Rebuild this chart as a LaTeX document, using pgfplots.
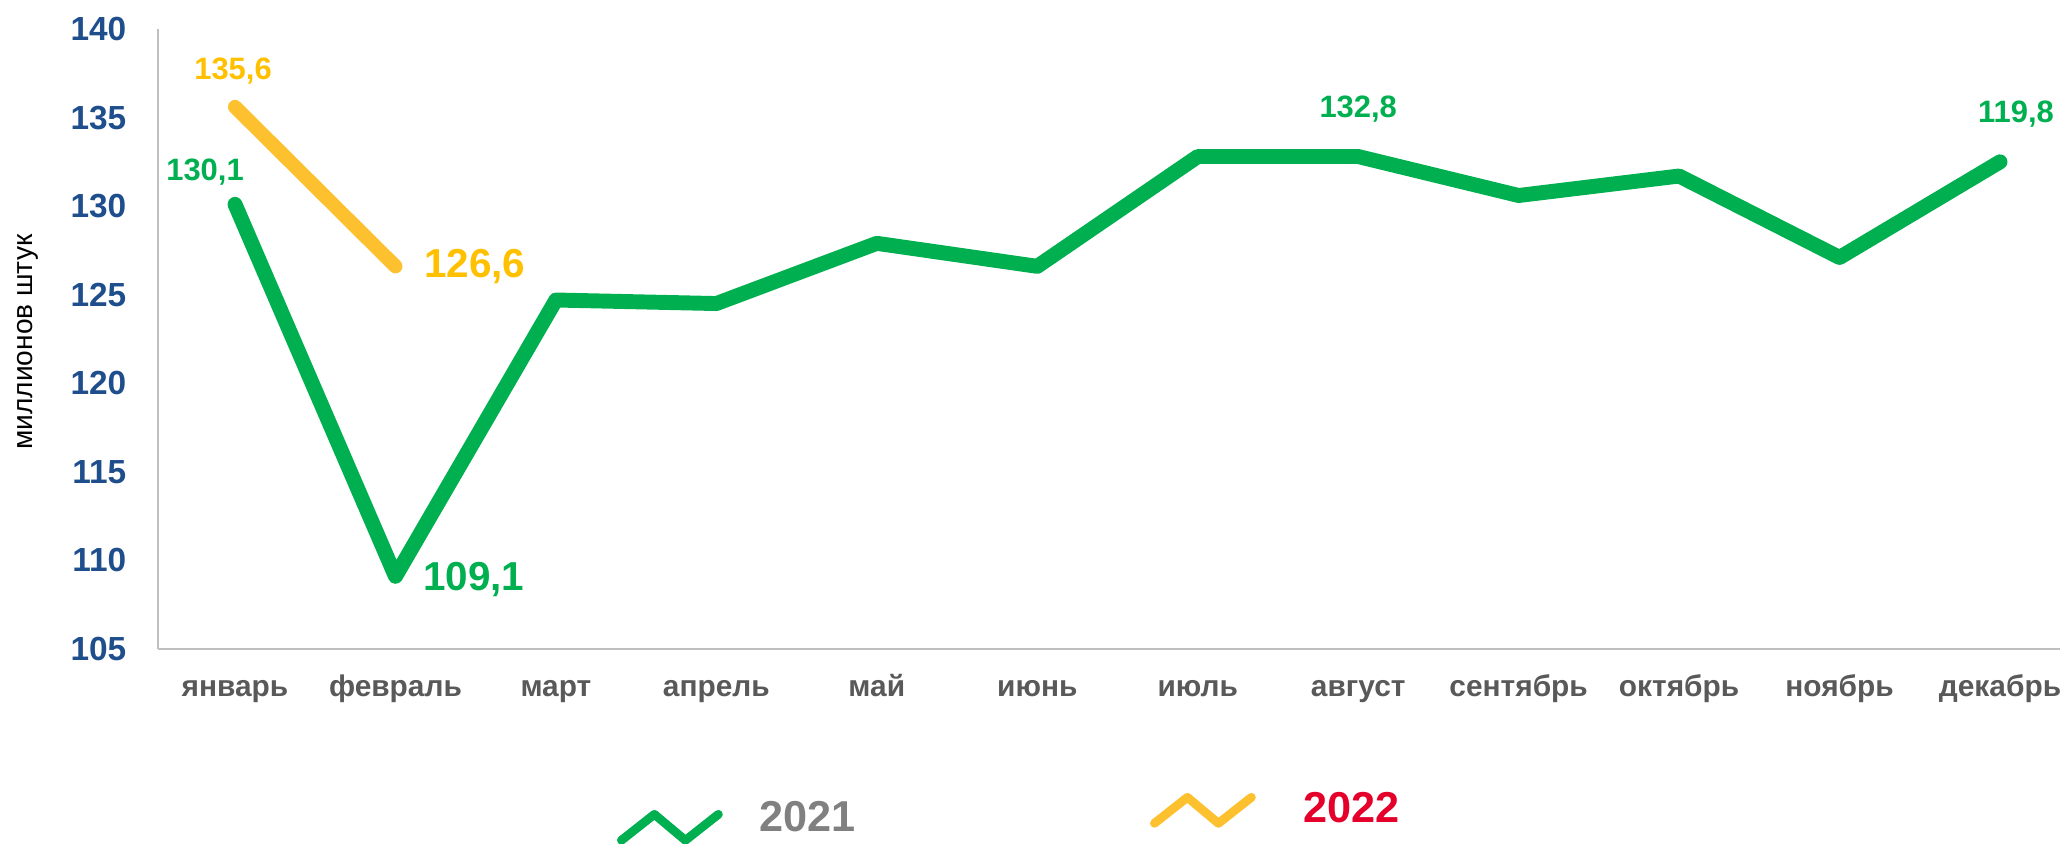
\documentclass[border=0pt]{standalone}
\usepackage{fontspec}
\setmainfont{Liberation Sans}
\usepackage{pgfplots}
\pgfplotsset{compat=1.18}
\definecolor{gr}{HTML}{00B050}
\definecolor{orl}{HTML}{FDC02F}
\definecolor{ort}{HTML}{FFC000}
\definecolor{ytk}{HTML}{1F4E8C}
\definecolor{xtk}{HTML}{595959}
\definecolor{lg}{HTML}{808080}
\definecolor{rd}{HTML}{E4002B}
\definecolor{axc}{HTML}{BFBFBF}
\begin{document}
\begin{tikzpicture}
\begin{axis}[
  at={(1.58cm,1.95cm)}, anchor=south west,
  width=19.02cm, height=6.2cm, scale only axis,
  xmin=-0.48, xmax=11.374, ymin=105, ymax=140,
  axis x line*=bottom, axis y line*=left,
  axis line style={draw=axc, line width=0.6pt},
  xtick={0,...,11},
  xticklabels={январь,февраль,март,апрель,май,июнь,июль,август,сентябрь,октябрь,ноябрь,декабрь},
  ytick={105,110,...,140},
  major tick length=0pt, tick style={draw=none},
  /pgf/number format/assume math mode=true,
  xticklabel style={font=\fontsize{8.5}{10}\selectfont\bfseries, text=xtk, anchor=base, yshift=-0.48cm},
  yticklabel style={font=\fontsize{9.5}{11}\selectfont\bfseries, text=ytk, anchor=east, inner sep=0pt, xshift=-0.31cm},
  ylabel={миллионов штук},
  ylabel style={at={(axis description cs:-0.0683,0.495)}, anchor=center, font=\fontsize{8}{9}\selectfont},
  clip=false,
  legend columns=2,
  legend style={at={(axis description cs:0.449,-0.268)}, anchor=center, draw=none, fill=none,
    font=\fontsize{12.3}{14}\selectfont\bfseries,
    /tikz/every even column/.append style={column sep=2.87cm}},
  legend cell align=left,
]
\addplot[gr, line width=4.25pt, line cap=round, line join=round,
  legend image code/.code={\draw[gr, line width=2.5pt] (0cm,-0.28cm) -- (0.33cm,-0.02cm) -- (0.64cm,-0.28cm) -- (0.97cm,-0.02cm);}]
  coordinates {(0,130.1) (1,109.1) (2,124.7) (3,124.5) (4,127.9) (5,126.6) (6,132.8) (7,132.8) (8,130.6) (9,131.7) (10,127.1) (11,132.5)};
\addlegendentry{\hspace*{0.30cm}\textcolor{lg}{\raisebox{-0.13cm}{2021}}}
\addplot[orl, line width=4pt, line cap=round, line join=round,
  legend image code/.code={\draw[orl, line width=2.5pt] (0cm,-0.11cm) -- (0.33cm,0.15cm) -- (0.64cm,-0.11cm) -- (0.97cm,0.15cm);}]
  coordinates {(0,135.6) (1,126.6)};
\addlegendentry{\hspace*{0.41cm}\textcolor{rd}{\raisebox{0.04cm}{2022}}}
\node[text=gr, font=\fontsize{8.8}{10}\selectfont\bfseries, xshift=-0.30cm, yshift=0.32cm] at (axis cs:0,130.1) {130,1};
\node[text=ort, font=\fontsize{8.8}{10}\selectfont\bfseries, xshift=-0.02cm, yshift=0.36cm] at (axis cs:0,135.6) {135,6};
\node[text=ort, font=\fontsize{11.5}{13}\selectfont\bfseries, anchor=west, inner sep=0pt, xshift=0.28cm] at (axis cs:1,126.6) {126,6};
\node[text=gr, font=\fontsize{11.5}{13}\selectfont\bfseries, anchor=west, inner sep=0pt, xshift=0.27cm, yshift=-0.03cm] at (axis cs:1,109.1) {109,1};
\node[text=gr, font=\fontsize{8.8}{10}\selectfont\bfseries, yshift=0.47cm] at (axis cs:7,132.8) {132,8};
\node[text=gr, font=\fontsize{8.8}{10}\selectfont\bfseries, xshift=0.16cm, yshift=0.48cm] at (axis cs:11,132.5) {119,8};
\end{axis}
\pgfresetboundingbox
\useasboundingbox (0,0) rectangle (20.64cm,8.44cm);
\end{tikzpicture}
\end{document}
